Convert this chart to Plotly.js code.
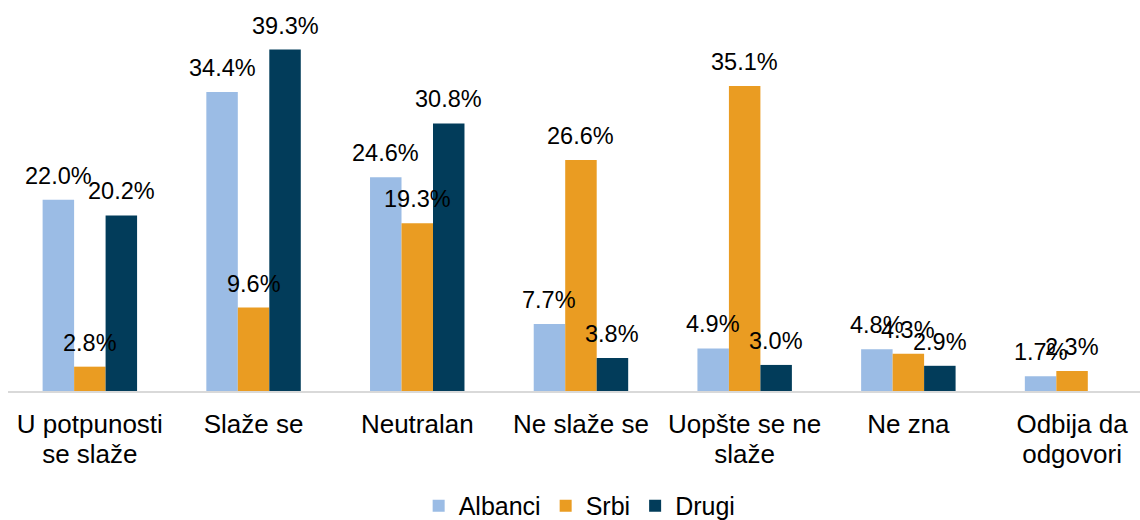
<!DOCTYPE html>
<html>
<head>
<meta charset="utf-8">
<script src="https://cdn.plot.ly/plotly-3.0.1.min.js"></script>
<style>html,body{margin:0;padding:0;background:#fff;}#chart{width:1140px;height:520px;}</style>
</head>
<body>
<div id="chart"></div>
<script>
const categories = ["U potpunosti<br>se slaže", "Slaže se", "Neutralan", "Ne slaže se", "Uopšte se ne<br>slaže", "Ne zna", "Odbija da<br>odgovori"];
const seriesNames = ["Albanci", "Srbi", "Drugi"];
const albanci = [22.0, 34.4, 24.6, 7.7, 4.9, 4.8, 1.7];
const srbi = [2.8, 9.6, 19.3, 26.6, 35.1, 4.3, 2.3];
const drugi = [20.2, 39.3, 30.8, 3.8, 3.0, 2.9, null];
const colors = ["#9BBCE5", "#EA9C22", "#023C5A"];

const allSeries = [albanci, srbi, drugi];
const catIdx = categories.map((c, i) => i);

const traces = allSeries.map((vals, s) => ({
  type: "bar",
  name: seriesNames[s],
  x: catIdx,
  y: vals,
  marker: {color: colors[s]},
  hoverinfo: "skip"
}));

const barPx = 31.5;
const annotations = [];
allSeries.forEach((vals, s) => {
  vals.forEach((v, i) => {
    if (v === null) return;
    annotations.push({
      x: i, y: v, xref: "x", yref: "y",
      text: v.toFixed(1) + "%",
      showarrow: false,
      xanchor: "center", yanchor: "middle",
      xshift: (s - 1) * barPx,
      yshift: 24,
      font: {family: "Liberation Sans, Arial, sans-serif", size: 23.5, color: "#000"}
    });
  });
});

const tickText = categories.map(c => '<span style="font-size:26px">' + c.split("<br>").join('</span><br><span style="font-size:26px">') + '</span>');

const layout = {
  width: 1140, height: 520,
  margin: {l: 8, r: 0, t: 0, b: 129},
  paper_bgcolor: "#fff", plot_bgcolor: "#fff",
  barmode: "group",
  bargap: 0.423,
  bargroupgap: 0,
  font: {family: "Liberation Sans, Arial, sans-serif", color: "#000"},
  xaxis: {
    range: [-0.5, 6.415],
    tickmode: "array",
    tickvals: catIdx,
    ticktext: tickText,
    tickfont: {size: 23, color: "#000"},
    ticklabelstandoff: 13,
    automargin: false,
    showline: true, linecolor: "#d9d9d9", linewidth: 1.5,
    showgrid: false, zeroline: false, ticks: "",
    fixedrange: true
  },
  yaxis: {
    range: [0, 45],
    visible: false,
    showgrid: false, zeroline: false,
    fixedrange: true
  },
  showlegend: true,
  legend: {
    orientation: "h",
    x: 0.505, xanchor: "center",
    y: 0.027, yanchor: "middle",
    xref: "paper", yref: "container",
    font: {size: 25, color: "#000"},
    itemwidth: 30,
    traceorder: "normal"
  },
  annotations: annotations
};

Plotly.newPlot("chart", traces, layout, {displayModeBar: false, staticPlot: true});
</script>
</body>
</html>
